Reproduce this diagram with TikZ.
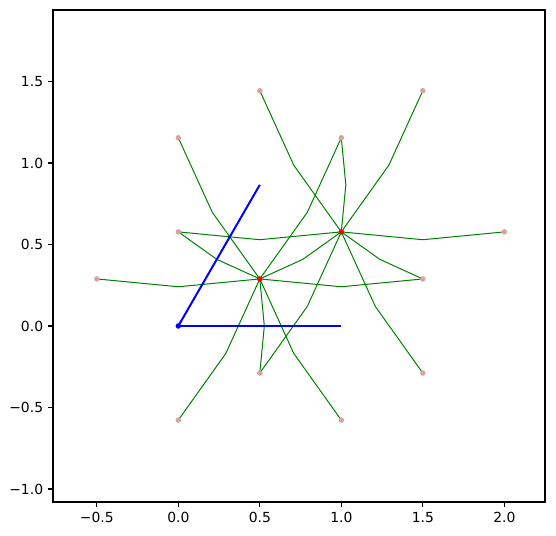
\documentclass[tikz,border=0pt]{standalone}
\usepackage{fontspec}
\setmainfont{DejaVu Sans}
\usetikzlibrary{calc}
\definecolor{pinkpt}{RGB}{216,162,160}
\definecolor{mplgreen}{RGB}{0,128,0}
\newcommand\bondline[2]{\draw[bondstyle] (#1) -- ($(#1)!0.5!(#2)!0.096!90:(#2)$) -- (#2);}
\begin{document}
\begin{tikzpicture}[x=163pt,y=163pt,
  bondstyle/.style={mplgreen, line width=1pt, line join=round},
  vecstyle/.style={blue, line width=2pt},
  sitedot/.style={circle, fill=pinkpt, inner sep=0pt, minimum size=5.5pt},
  centerdot/.style={circle, fill=red, inner sep=0pt, minimum size=5.5pt},
  origindot/.style={circle, fill=blue, inner sep=0pt, minimum size=5.5pt},
  framestyle/.style={black, line width=1.1pt},
  tickstyle/.style={black, line width=1.1pt},
  ticklabel/.style={inner sep=0pt, font=\fontsize{13.9}{16}\selectfont}]
\useasboundingbox (-1.0939,-1.2883) rectangle (2.3172,2.0);
% lattice points
\coordinate (A) at (0.5,0.288675);
\coordinate (B) at (1,0.577350);
\coordinate (P1) at (0.5,1.443376);
\coordinate (P2) at (1.5,1.443376);
\coordinate (P3) at (0,1.154701);
\coordinate (P4) at (1,1.154701);
\coordinate (P5) at (0,0.577350);
\coordinate (P6) at (2,0.577350);
\coordinate (P7) at (-0.5,0.288675);
\coordinate (P8) at (1.5,0.288675);
\coordinate (P9) at (0.5,-0.288675);
\coordinate (P10) at (1.5,-0.288675);
\coordinate (P11) at (0,-0.577350);
\coordinate (P12) at (1,-0.577350);
\coordinate (O) at (0,0);
\coordinate (E1) at (1,0);
\coordinate (E2) at (0.5,0.866025);
% bonds
\bondline{A}{P3}
\bondline{P4}{A}
\bondline{A}{P5}
\bondline{A}{P7}
\bondline{P8}{A}
\bondline{A}{P9}
\bondline{A}{P11}
\bondline{P12}{A}
\bondline{B}{A}
\bondline{B}{P1}
\bondline{P2}{B}
\bondline{P4}{B}
\bondline{B}{P5}
\bondline{P6}{B}
\bondline{P8}{B}
\bondline{B}{P9}
\bondline{P10}{B}
% basis vectors
\draw[vecstyle] (O) -- (E1);
\draw[vecstyle] (O) -- (E2);
% dots
\foreach \p in {P1,P2,P3,P4,P5,P6,P7,P8,P9,P10,P11,P12}{
  \node[sitedot] (d\p) at (\p) {};
}
\node[centerdot] (dA) at (A) {};
\node[centerdot] (dB) at (B) {};
\node[origindot] (dO) at (O) {};
% frame
\draw[framestyle] (-0.7687,-1.0798) rectangle (2.2497,1.9387);
% x ticks
\foreach \xv/\lab in {-0.5/{\char"2212 0.5},0/0.0,0.5/0.5,1/1.0,1.5/1.5,2/2.0}{
  \draw[tickstyle] (\xv,-1.0798) -- ++(0,-4.86pt);
  \node[ticklabel, anchor=north] (xl\xv) at ([yshift=-9.7pt]\xv,-1.0798) {\lab};
}
% y ticks
\foreach \yv/\lab in {-1/{\char"2212 1.0},-0.5/{\char"2212 0.5},0/0.0,0.5/0.5,1/1.0,1.5/1.5}{
  \draw[tickstyle] (-0.7687,\yv) -- ++(-4.86pt,0);
  \node[ticklabel, anchor=east] (yl\yv) at ([xshift=-9.7pt]-0.7687,\yv) {\lab};
}
\end{tikzpicture}
\end{document}
